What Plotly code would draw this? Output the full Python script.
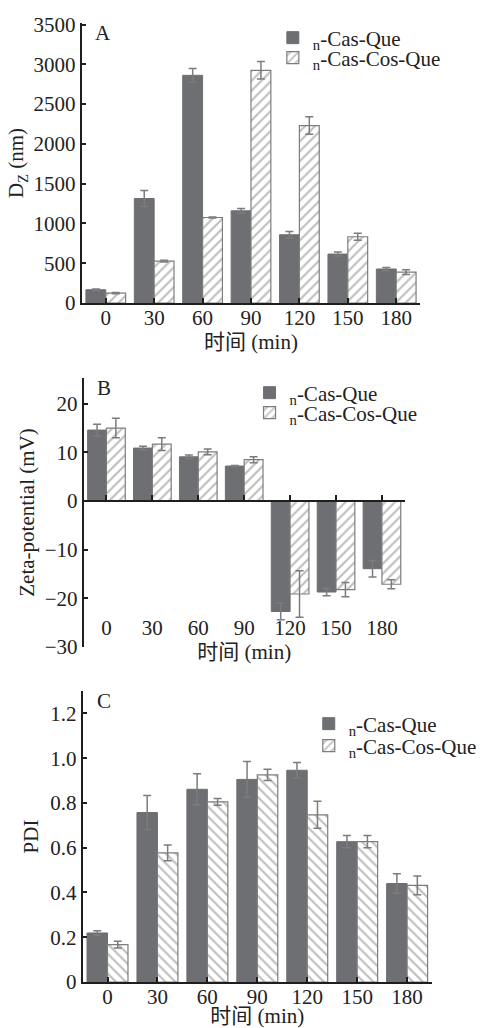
import plotly.graph_objects as go

# ---------------- data ----------------
time_labels = ["0", "30", "60", "90", "120", "150", "180"]
series_names = ["<sub>n</sub>-Cas-Que", "<sub>n</sub>-Cas-Cos-Que"]

dz_cas = [167, 1314, 2862, 1159, 858, 615, 427]
dz_cas_err = [10, 100, 85, 30, 40, 25, 20]
dz_cos = [125, 527, 1075, 2925, 2230, 833, 389]
dz_cos_err = [8, 10, 5, 110, 110, 45, 30]

zeta_cas = [14.6, 10.9, 9.1, 7.2, -22.7, -18.7, -13.9]
zeta_cas_err = [1.2, 0.35, 0.35, 0.1, 1.7, 0.75, 1.7]
zeta_cos = [15.0, 11.7, 10.1, 8.5, -19.1, -18.2, -17.1]
zeta_cos_err = [2.0, 1.3, 0.6, 0.6, 4.8, 1.45, 0.9]

pdi_cas = [0.219, 0.757, 0.861, 0.905, 0.946, 0.627, 0.440]
pdi_cas_err = [0.010, 0.076, 0.069, 0.080, 0.035, 0.027, 0.044]
pdi_cos = [0.167, 0.577, 0.805, 0.925, 0.747, 0.627, 0.432]
pdi_cos_err = [0.015, 0.035, 0.015, 0.025, 0.060, 0.027, 0.042]

dz_ticks = [0, 500, 1000, 1500, 2000, 2500, 3000, 3500]
zeta_ticks = [-30, -20, -10, 0, 10, 20]
pdi_ticks = [0, 0.2, 0.4, 0.6, 0.8, 1.0, 1.2]
pdi_ticktext = ["0", "0.2", "0.4", "0.6", "0.8", "1.0", "1.2"]

# ---------------- style ----------------
W, H = 482, 1028
MB = 40  # bottom margin
FONT = "Liberation Serif, Times New Roman, Noto Sans CJK SC, serif"
FS = 21
DARK = "#6e6f73"
HATCH = "#7d7d7d"
ERR = "#7c7c7c"
AX = "#1e1e1e"
idx = list(range(len(time_labels)))


def px_x(p):
    return p / W


def px_y(p):
    return 1 - p / (H - MB)


dom = {
    "A": ([px_x(84), px_x(433)], [px_y(303), px_y(23)]),
    "B": ([px_x(86), px_x(417)], [px_y(647), px_y(378)]),
    "C": ([px_x(85), px_x(445)], [px_y(982), px_y(691)]),
}
yrng = {"A": [0, 3520], "B": [-30, 25.3], "C": [0, 1.3]}

fig = go.Figure()


def hatch_marker(shape):
    return dict(color="white", line=dict(color=HATCH, width=1.2),
                pattern=dict(shape=shape, fgcolor=HATCH, bgcolor="white",
                             size=7, solidity=0.3))


def add_pair(xa, ya, v1, e1, v2, e2, shape, lg1, lg2, legend_shape=None):
    fig.add_trace(go.Bar(
        x=idx, y=v1, name=series_names[0], xaxis=xa, yaxis=ya,
        offsetgroup="a", legend=lg1, showlegend=True,
        marker=dict(color=DARK, line=dict(color=DARK, width=1)),
        error_y=dict(type="data", array=e1, color=ERR, thickness=1.5, width=4),
    ))
    show2 = legend_shape is None
    fig.add_trace(go.Bar(
        x=idx, y=v2, name=series_names[1], xaxis=xa, yaxis=ya,
        offsetgroup="b", legend=lg2, showlegend=show2,
        marker=hatch_marker(shape),
        error_y=dict(type="data", array=e2, color=ERR, thickness=1.5, width=4),
    ))
    if legend_shape is not None:
        fig.add_trace(go.Bar(
            x=[None], y=[None], name=series_names[1], xaxis=xa, yaxis=ya,
            offsetgroup="b", legend=lg2, showlegend=True,
            marker=hatch_marker(legend_shape),
        ))


add_pair("x", "y", dz_cas, dz_cas_err, dz_cos, dz_cos_err, "/", "legend2", "legend3")
add_pair("x2", "y2", zeta_cas, zeta_cas_err, zeta_cos, zeta_cos_err, "/", "legend4", "legend5")
add_pair("x3", "y3", pdi_cas, pdi_cas_err, pdi_cos, pdi_cos_err, "\\", "legend6", "legend7",
         legend_shape="/")

# invisible trace so that the label axis of panel B is created
fig.add_trace(go.Scatter(x=idx, y=[None] * len(idx), xaxis="x4", yaxis="y2",
                         mode="markers", showlegend=False, hoverinfo="skip"))

tickfont = dict(family=FONT, size=FS, color="#222")
titlefont = dict(family=FONT, size=FS, color="#222")

common_x = dict(range=[-0.5, 6.5], tickmode="array", tickvals=idx, ticktext=time_labels,
                ticks="inside", ticklen=5, tickwidth=1.5, tickcolor=AX,
                showline=True, linecolor=AX, linewidth=1.5, showgrid=False,
                zeroline=False, tickfont=tickfont, automargin=False,
                ticklabelstandoff=-5)
common_y = dict(ticks="inside", ticklen=5, tickwidth=1.5, tickcolor=AX,
                showline=True, linecolor=AX, linewidth=1.5, showgrid=False,
                zeroline=False, tickfont=tickfont, automargin=False)

# Panel A
fig.update_layout(
    xaxis=dict(common_x, domain=dom["A"][0], anchor="y",
               title=dict(text="时间 (min)", font=titlefont, standoff=0)),
    yaxis=dict(common_y, domain=dom["A"][1], anchor="x", range=yrng["A"],
               tickmode="array", tickvals=dz_ticks,
               title=dict(text="D<sub>Z</sub> (nm)", font=titlefont, standoff=4)),
)

# Panel B: axis line at zero, labels lower
b0, b1 = dom["B"][1]
rB = yrng["B"]


def b_pos(v):
    return b0 + (v - rB[0]) / (rB[1] - rB[0]) * (b1 - b0)


fig.update_layout(
    xaxis2=dict(common_x, domain=dom["B"][0], anchor="free", position=b_pos(0),
                showticklabels=False),
    xaxis4=dict(common_x, overlaying="x2", anchor="free", position=b_pos(-23.0),
                showline=False, ticks="", ticklabelstandoff=0,
                title=dict(text="时间 (min)", font=titlefont, standoff=0)),
    yaxis2=dict(common_y, domain=dom["B"][1], anchor="x2", range=rB,
                tickmode="array", tickvals=zeta_ticks,
                title=dict(text="Zeta-potential (mV)", font=titlefont, standoff=4)),
)

# Panel C
fig.update_layout(
    xaxis3=dict(common_x, domain=dom["C"][0], anchor="y3",
                title=dict(text="时间 (min)", font=titlefont, standoff=3)),
    yaxis3=dict(common_y, domain=dom["C"][1], anchor="x3", range=yrng["C"],
                tickmode="array", tickvals=pdi_ticks, ticktext=pdi_ticktext,
                title=dict(text="PDI", font=titlefont, standoff=6)),
)

# legends (one per row for tight spacing): left edge px, row centre px
leg_rows = {
    "legend2": (281, 38), "legend3": (281, 58),
    "legend4": (257, 393), "legend5": (257, 413),
    "legend6": (318, 724), "legend7": (318, 746),
}
for name, (lx, cy) in leg_rows.items():
    fig.update_layout({name: dict(
        x=px_x(lx), y=px_y(cy), xanchor="left", yanchor="middle",
        bgcolor="rgba(0,0,0,0)", borderwidth=0, itemwidth=30,
        font=dict(family=FONT, size=FS, color="#222"),
    )})

# panel letters
for letter, xa, ya in [("A", "x", "y"), ("B", "x2", "y2"), ("C", "x3", "y3")]:
    fig.add_annotation(text=letter, xref=f"{xa} domain", yref=f"{ya} domain",
                       x=0.035, y=1.0, yshift=4, xanchor="left", yanchor="top",
                       showarrow=False, font=dict(family=FONT, size=FS, color="#222"))

fig.update_layout(
    width=W, height=H, margin=dict(l=0, r=0, t=0, b=MB),
    plot_bgcolor="white", paper_bgcolor="white", showlegend=True,
    barmode="group", bargap=0.18, bargroupgap=0,
    font=dict(family=FONT, size=FS, color="#222"),
)

fig.write_html("out.html")
